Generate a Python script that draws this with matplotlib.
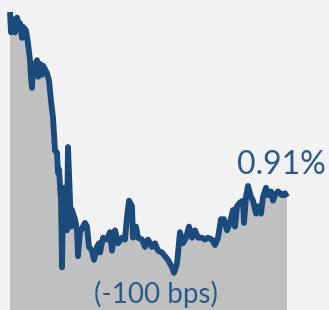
import matplotlib.pyplot as plt

# trading day index and yield (%)
days = [0, 1, 3, 5, 7, 9, 10, 12, 13, 16, 18, 20, 21, 22, 23, 25, 27, 28, 30, 32,
        33, 37, 39, 41, 43, 45, 47, 48, 49, 51, 52, 53, 54, 55, 57, 58, 59, 61, 62, 63,
        65, 67, 68, 70, 73, 75, 77, 79, 82, 84, 87, 89,
        90, 93, 97, 100, 102, 105, 108, 112, 115, 117, 119, 122, 123, 126, 128, 132,
        135, 138, 142, 145, 148, 152, 155, 158, 162, 164, 167, 170, 173, 176, 179, 182,
        185, 188, 192, 195, 198, 202, 205, 208, 211, 214, 217, 220, 223, 225, 227, 230,
        233, 234, 236, 238, 241, 243, 246, 248, 251, 253, 256, 258, 261, 263, 265, 268,
        272, 275, 277]

yields = [1.91, 1.80, 1.87, 1.80, 1.88, 1.83, 1.85, 1.77, 1.83, 1.81,
          1.74, 1.65, 1.56, 1.50, 1.63, 1.61, 1.65, 1.56, 1.63, 1.57,
          1.62, 1.58, 1.54, 1.43, 1.34, 1.16, 1.15, 1.04, 1.06, 0.89,
          0.53, 0.89, 0.96, 0.82, 0.73, 1.18, 1.04, 0.75, 0.84, 0.82,
          0.79, 0.73, 0.59, 0.72, 0.75, 0.77, 0.75, 0.64, 0.62, 0.57,
          0.64, 0.66,
          0.61, 0.69, 0.68, 0.72, 0.62, 0.73, 0.66, 0.69, 0.68, 0.80,
          0.89, 0.86, 0.69, 0.75, 0.69, 0.68, 0.64, 0.68, 0.64, 0.66,
          0.62, 0.61, 0.59, 0.57, 0.53, 0.50, 0.55, 0.72, 0.66, 0.69,
          0.75, 0.69, 0.73, 0.69, 0.69, 0.68, 0.69, 0.68, 0.65, 0.69,
          0.79, 0.79, 0.73, 0.77, 0.84, 0.75, 0.86, 0.88, 0.89, 0.77,
          0.91, 0.97, 0.91, 0.89, 0.82, 0.86, 0.82, 0.91, 0.96, 0.92,
          0.94, 0.89, 0.92, 0.94, 0.92, 0.93, 0.91]

last_label = '0.91%'
change_label = '(-100 bps)'

blue = '#1b4a7c'

fig = plt.figure(figsize=(3.29, 3.10), dpi=100)
fig.patch.set_facecolor('#f2f2f2')
ax = fig.add_axes([0, 0, 1, 1])
ax.set_facecolor('#f2f2f2')

ymin = 0.91 - 113 / 185
ymax = 0.91 + 197 / 185
ax.fill_between(days, yields, ymin - 1, color='#c0c0c0', linewidth=0)
ax.plot(days, yields, color=blue, linewidth=4.2, solid_joinstyle='round',
        solid_capstyle='butt')

ax.set_xlim(-10, 319)
ax.set_ylim(ymin, ymax)
ax.axis('off')

ax.text(0.99, 0.44, last_label, transform=ax.transAxes, ha='right', va='baseline',
        fontsize=23, color='#2a5a8c', family='Lato')
ax.text(0.474, 0.023, change_label, transform=ax.transAxes, ha='center',
        va='baseline', fontsize=20, color='#2a5a8c', family='Lato')

fig.savefig('out.png', dpi=100, facecolor=fig.get_facecolor())
